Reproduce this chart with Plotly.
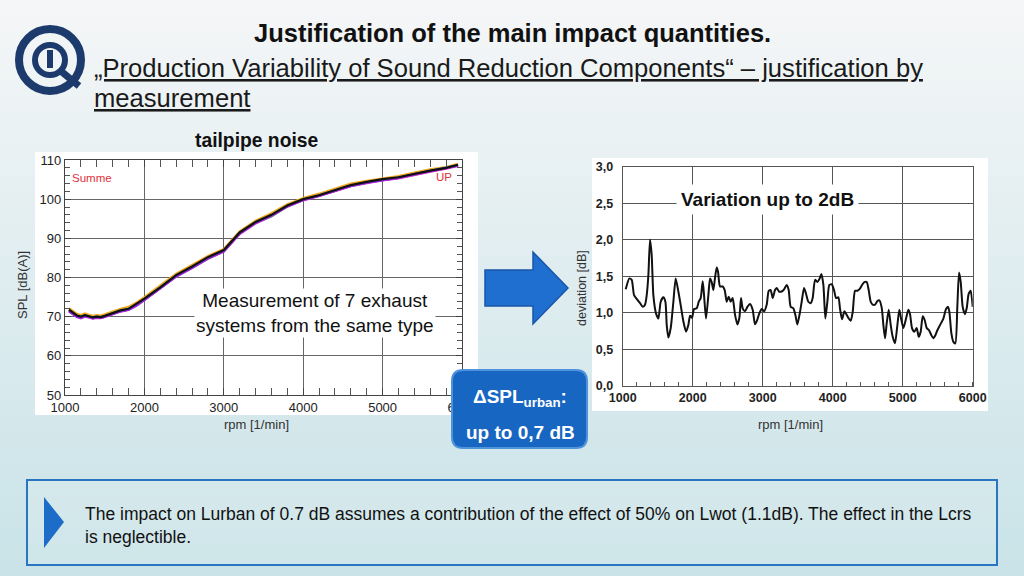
import plotly.graph_objects as go

W, H = 1024, 576

# ---------------- data: tailpipe noise (SPL vs rpm), 7 exhaust systems ----------------
rpm_spl = [1050, 1100, 1150, 1200, 1250, 1300, 1350, 1400, 1450, 1500, 1600, 1700, 1800, 1900,
           2000, 2200, 2400, 2600, 2800, 3000, 3200, 3400, 3600, 3800, 4000, 4200, 4400, 4600,
           4800, 5000, 5200, 5400, 5600, 5800, 5950]
spl_red = [71.5, 70.8, 70.1, 69.8, 70.2, 70.0, 69.6, 69.9, 69.7, 70.0, 70.7, 71.4, 71.8, 73.0, 74.4,
           77.3, 80.4, 82.6, 85.0, 86.8, 91.2, 94.0, 95.8, 98.2, 99.8, 100.8, 102.1, 103.4, 104.2,
           104.9, 105.4, 106.3, 107.1, 107.9, 108.6]
spl_orange = [72.2, 71.4, 70.7, 70.4, 70.8, 70.5, 70.2, 70.4, 70.3, 70.6, 71.3, 72.0, 72.5, 73.6, 75.0,
              77.9, 81.0, 83.2, 85.5, 87.3, 91.8, 94.5, 96.4, 98.7, 100.3, 101.4, 102.8, 104.0, 104.7,
              105.3, 105.9, 106.8, 107.6, 108.2, 109.0]
spl_green = [71.6, 70.9, 70.2, 69.9, 70.3, 70.0, 69.7, 69.9, 69.8, 70.1, 70.8, 71.5, 71.9, 72.9, 74.3,
             77.2, 80.3, 82.5, 84.8, 86.7, 91.2, 93.9, 95.6, 98.1, 99.8, 100.9, 102.2, 103.5, 104.3,
             105.0, 105.5, 106.4, 107.2, 107.9, 108.7]
spl_cyan = [71.7, 71.0, 70.2, 70.0, 70.3, 70.1, 69.8, 70.0, 69.9, 70.1, 70.8, 71.6, 72.0, 73.1, 74.5,
            77.4, 80.5, 82.7, 85.1, 86.9, 91.4, 94.1, 95.9, 98.3, 99.9, 101.0, 102.2, 103.5, 104.3,
            104.9, 105.4, 106.4, 107.2, 108.0, 108.7]
spl_magenta = [71.3, 70.6, 69.9, 69.6, 70.0, 69.8, 69.5, 69.7, 69.6, 69.9, 70.6, 71.3, 71.7, 72.8, 74.2,
               77.1, 80.2, 82.4, 84.8, 86.6, 91.1, 93.8, 95.7, 98.1, 99.7, 100.8, 102.0, 103.3, 104.1,
               104.8, 105.3, 106.2, 107.0, 107.8, 108.5]
spl_purple = [71.4, 70.7, 70.0, 69.7, 70.1, 69.9, 69.6, 69.8, 69.7, 70.0, 70.7, 71.4, 71.8, 72.9, 74.3,
              77.2, 80.3, 82.5, 84.9, 86.7, 91.3, 94.0, 95.8, 98.2, 99.8, 100.9, 102.1, 103.4, 104.2,
              104.9, 105.5, 106.4, 107.2, 107.9, 108.6]
spl_black = [71.8, 71.0, 70.3, 70.0, 70.4, 70.1, 69.8, 70.0, 69.9, 70.2, 70.9, 71.6, 72.0, 73.2, 74.6,
             77.5, 80.6, 82.8, 85.2, 87.0, 91.5, 94.2, 96.0, 98.4, 100.0, 101.0, 102.3, 103.6, 104.4,
             105.1, 105.6, 106.5, 107.3, 108.0, 108.8]

spl_xticks = [1000, 2000, 3000, 4000, 5000, 6000]
spl_xticktext = ["1000", "2000", "3000", "4000", "5000", "6000"]
spl_yticks = [50, 60, 70, 80, 90, 100, 110]
spl_yticktext = ["50", "60", "70", "80", "90", "100", "110"]

# ---------------- data: deviation vs rpm ----------------
rpm_dev = [1043, 1095, 1129, 1162, 1200, 1248, 1286, 1319, 1343, 1367, 1390, 1414, 1438, 1476, 1510,
           1543, 1581, 1610, 1629, 1652, 1686, 1724, 1757, 1795, 1829, 1867, 1905, 1938, 1962, 1990,
           2019, 2057, 2086, 2114, 2143, 2162, 2190, 2224, 2248, 2271, 2295, 2319, 2343, 2362, 2390,
           2429, 2457, 2486, 2514, 2543, 2571, 2605, 2638, 2667, 2690, 2714, 2748, 2781, 2819, 2857,
           2890, 2914, 2952, 2986, 3019, 3057, 3086, 3114, 3143, 3176, 3200, 3233, 3271, 3305, 3343,
           3371, 3400, 3438, 3467, 3495, 3533, 3557, 3590, 3619, 3652, 3686, 3714, 3748, 3781, 3810,
           3838, 3867, 3895, 3924, 3952, 3986, 4019, 4048, 4081, 4105, 4133, 4167, 4200, 4229, 4257,
           4286, 4319, 4352, 4390, 4419, 4452, 4486, 4514, 4543, 4571, 4605, 4638, 4667, 4700, 4724,
           4748, 4771, 4800, 4829, 4857, 4890, 4924, 4952, 4981, 5010, 5048, 5081, 5105, 5133, 5167,
           5200, 5229, 5257, 5286, 5314, 5343, 5376, 5410, 5438, 5467, 5495, 5533, 5581, 5619, 5648,
           5667, 5695, 5724, 5752, 5781, 5805, 5829, 5857, 5890, 5914, 5943, 5971, 6000]
deviation = [1.32, 1.47, 1.45, 1.24, 1.19, 1.13, 1.08, 1.11, 1.24, 1.52, 2.00, 1.79, 1.24, 0.99, 0.92,
             1.15, 1.21, 1.15, 0.83, 0.66, 0.79, 1.15, 1.47, 1.29, 1.10, 0.88, 0.74, 0.83, 0.96, 0.93,
             1.05, 1.06, 1.15, 1.20, 1.43, 1.24, 0.92, 1.24, 1.47, 1.42, 1.31, 1.48, 1.62, 1.56, 1.36,
             1.36, 1.31, 1.15, 1.22, 1.15, 1.20, 0.97, 0.84, 0.93, 1.20, 1.06, 1.02, 1.08, 1.12, 1.04,
             0.84, 0.88, 0.99, 1.05, 1.02, 1.11, 1.30, 1.31, 1.20, 1.31, 1.34, 1.29, 1.29, 1.32, 1.38,
             1.31, 1.08, 1.06, 0.97, 0.84, 1.01, 1.15, 1.34, 1.26, 1.15, 1.13, 1.20, 1.45, 1.42, 1.46,
             1.53, 1.38, 0.92, 1.15, 1.38, 1.39, 1.31, 1.20, 1.21, 1.05, 0.91, 1.02, 0.97, 0.92, 0.89,
             1.01, 1.30, 1.30, 1.33, 1.38, 1.42, 1.42, 1.31, 1.15, 1.11, 1.11, 1.16, 1.17, 1.07, 0.83,
             0.65, 0.85, 1.04, 0.83, 0.67, 0.58, 0.83, 1.04, 0.90, 0.79, 0.92, 1.04, 0.98, 0.79, 0.74,
             0.79, 0.67, 0.74, 0.95, 0.90, 0.79, 0.76, 0.69, 0.65, 0.69, 0.76, 0.83, 0.92, 1.05, 1.08,
             1.01, 0.72, 0.60, 0.58, 1.10, 1.55, 1.42, 1.08, 0.98, 1.06, 1.26, 1.30, 1.08]

dev_xticks = [1000, 2000, 3000, 4000, 5000, 6000]
dev_xticktext = ["1000", "2000", "3000", "4000", "5000", "6000"]
dev_yticks = [0, 0.5, 1.0, 1.5, 2.0, 2.5, 3.0]
dev_yticktext = ["0,0", "0,5", "1,0", "1,5", "2,0", "2,5", "3,0"]


def px(x):
    return x / W


def py(y):
    return 1 - y / H


fig = go.Figure()

series = [
    (spl_red, "#e8283c"), (spl_orange, "#f2a81d"), (spl_green, "#2fd17a"),
    (spl_cyan, "#1ea6e0"), (spl_magenta, "#d22ad2"), (spl_purple, "#8a2be2"),
    (spl_black, "#111111"),
]
for vals, col in series:
    fig.add_trace(go.Scatter(x=rpm_spl, y=vals, mode="lines", line=dict(color=col, width=2.2),
                             xaxis="x", yaxis="y", showlegend=False, hoverinfo="skip"))

fig.add_trace(go.Scatter(x=rpm_dev, y=deviation, mode="lines",
                         line=dict(color="#111111", width=2, shape="spline", smoothing=0.6),
                         xaxis="x2", yaxis="y2", showlegend=False, hoverinfo="skip"))

shapes = []
# background gradient bands
top = (0xf4, 0xf6, 0xf7)
bot = (0xc9, 0xe3, 0xe8)
N = 36
for i in range(N):
    t = i / (N - 1)
    c = tuple(round(top[k] + (bot[k] - top[k]) * t) for k in range(3))
    shapes.append(dict(type="rect", xref="paper", yref="paper", x0=0, x1=1,
                       y0=max(0, py(H * (i + 1) / N + 1)), y1=py(H * i / N),
                       fillcolor="rgb(%d,%d,%d)" % c, line=dict(width=0), layer="below"))
# white chart panels
shapes.append(dict(type="rect", xref="paper", yref="paper", x0=px(35), x1=px(478), y0=py(415), y1=py(152),
                   fillcolor="white", line=dict(width=0), layer="below"))
shapes.append(dict(type="rect", xref="paper", yref="paper", x0=px(592), x1=px(988), y0=py(411), y1=py(158),
                   fillcolor="white", line=dict(width=0), layer="below"))

# logo
navy = "#1d3a6c"
shapes.append(dict(type="circle", xref="paper", yref="paper", x0=px(19), x1=px(81), y0=py(91), y1=py(29),
                   line=dict(color=navy, width=8), fillcolor="rgba(0,0,0,0)"))
shapes.append(dict(type="circle", xref="paper", yref="paper", x0=px(35), x1=px(65), y0=py(75), y1=py(45),
                   line=dict(color=navy, width=6), fillcolor="rgba(0,0,0,0)"))
shapes.append(dict(type="rect", xref="paper", yref="paper", x0=px(47), x1=px(53), y0=py(68), y1=py(50),
                   line=dict(width=0), fillcolor=navy))
shapes.append(dict(type="line", xref="paper", yref="paper", x0=px(62), x1=px(79), y0=py(72), y1=py(86),
                   line=dict(color=navy, width=7)))

# arrow
arrow = "M {},{} L {},{} L {},{} L {},{} L {},{} L {},{} L {},{} Z".format(
    px(485), py(270), px(533), py(270), px(533), py(252), px(568), py(288),
    px(533), py(324), px(533), py(306), px(485), py(306))
shapes.append(dict(type="path", xref="paper", yref="paper", path=arrow,
                   fillcolor="#1e6fcf", line=dict(color="#1a56a8", width=1.5), layer="above"))

# rounded box ΔSPL
x0, x1, y0, y1, r = 452, 587, 370, 448, 11
rb = ("M {a},{b} L {c},{b} Q {x1},{b} {x1},{d} L {x1},{e} Q {x1},{f} {c},{f} "
      "L {a},{f} Q {x0},{f} {x0},{e} L {x0},{d} Q {x0},{b} {a},{b} Z").format(
    a=px(x0 + r), b=py(y0), c=px(x1 - r), d=py(y0 + r), e=py(y1 - r), f=py(y1),
    x0=px(x0), x1=px(x1))
shapes.append(dict(type="path", xref="paper", yref="paper", path=rb,
                   fillcolor="#1766c2", line=dict(color="#4f93dc", width=2), layer="above"))

# bottom box
shapes.append(dict(type="rect", xref="paper", yref="paper", x0=px(27), x1=px(997), y0=py(565), y1=py(480),
                   fillcolor="rgba(255,255,255,0.12)", line=dict(color="#2a74c4", width=2), layer="above"))
tri = "M {},{} L {},{} L {},{} Z".format(px(44), py(497), px(64), py(522), px(44), py(548))
shapes.append(dict(type="path", xref="paper", yref="paper", path=tri, fillcolor="#1d6cc8",
                   line=dict(width=0), layer="above"))

ann = []


def A(text, x, y, size, color="#111", bold=False, xanchor="center", **kw):
    t = "<b>%s</b>" % text if bold else text
    d = dict(text=t, x=px(x), y=py(y), xref="paper", yref="paper", showarrow=False,
             xanchor=xanchor, yanchor="middle", font=dict(size=size, color=color, family="Arial"))
    d.update(kw)
    ann.append(d)


A("Justification of the main impact quantities.", 512, 33, 25.5, bold=True)
A("<u>„Production Variability of Sound Reduction Components“ – justification by</u>", 92, 68, 25.6,
  color="#1a1a1a", xanchor="left")
A("<u>measurement</u>", 92, 98, 25.6, color="#1a1a1a", xanchor="left")
A("tailpipe noise", 256, 141, 19.3, bold=True)
A("SPL [dB(A)]", 22, 285, 13, color="#333", textangle=-90)
A("rpm [1/min]", 256, 424, 13, color="#333")
A("rpm [1/min]", 790, 424, 13, color="#333")
A("deviation [dB]", 582, 288, 12.5, color="#333", textangle=-90)
A("Summe", 92, 178, 11.5, color="#e0303c")
A("UP", 444, 177, 11.5, color="#e0303c")
A("Measurement of 7 exhaust<br>systems from the same type", 315, 313, 19, color="#111",
  bgcolor="white", borderpad=1)
A("Variation up to 2dB", 767, 199, 19, bold=True, bgcolor="white", borderpad=4)
A("ΔSPL<sub>urban</sub>:", 520, 398, 19, color="white", bold=True)
A("up to 0,7 dB", 520, 432, 19, color="white", bold=True)
ann.append(dict(text="The impact on Lurban of 0.7 dB assumes a contribution of the effect of 50% on Lwot (1.1dB). The effect in the Lcrs<br>is neglectible.",
                x=px(83), y=py(525), xref="paper", yref="paper", showarrow=False, xanchor="left",
                yanchor="middle", align="left", font=dict(size=17.5, color="#111", family="Arial")))

fig.update_layout(
    width=W, height=H, margin=dict(l=0, r=0, t=0, b=0, autoexpand=False),
    paper_bgcolor="#f4f6f7", plot_bgcolor="white", showlegend=False,
    shapes=shapes, annotations=ann,
    xaxis=dict(domain=[px(65), px(462)], range=[1000, 6000], tickvals=spl_xticks, ticktext=spl_xticktext,
               automargin=False,
               showgrid=True, gridcolor="#666", gridwidth=1.2, showline=True, linecolor="#444", linewidth=1.2,
               mirror="allticks", ticks="inside", ticklen=7, tickcolor="#444",
               minor=dict(dtick=200, tick0=1000, ticks="inside", ticklen=7, tickcolor="#555", showgrid=False),
               tickfont=dict(size=13, color="#222", family="Arial"), zeroline=False, anchor="y"),
    yaxis=dict(domain=[py(395), py(160)], range=[50, 110], tickvals=spl_yticks, ticktext=spl_yticktext,
               automargin=False,
               showgrid=True, gridcolor="#666", gridwidth=1.2, showline=True, linecolor="#444", linewidth=1.2,
               mirror="allticks", ticks="inside", ticklen=6, tickcolor="#444",
               minor=dict(dtick=2, tick0=50, ticks="inside", ticklen=5, tickcolor="#555", showgrid=False),
               tickfont=dict(size=13, color="#222", family="Arial"), zeroline=False, anchor="x"),
    xaxis2=dict(domain=[px(622.7), px(972.7)], range=[1000, 6000], tickvals=dev_xticks,
                ticktext=["<b>%s</b>" % t for t in dev_xticktext], automargin=False,
                showgrid=True, gridcolor="#555", gridwidth=1, showline=True, linecolor="#555", linewidth=1,
                mirror=True, ticks="",
                minor=dict(dtick=200, tick0=1000, ticks="inside", ticklen=4, tickcolor="#555", showgrid=False),
                tickfont=dict(size=12.5, color="#222", family="Arial"), zeroline=False, anchor="y2"),
    yaxis2=dict(domain=[py(385.7), py(166.7)], range=[0, 3], tickvals=dev_yticks,
                ticktext=["<b>%s</b>" % t for t in dev_yticktext], automargin=False,
                showgrid=True, gridcolor="#555", gridwidth=1, showline=True, linecolor="#555", linewidth=1,
                mirror=True, ticks="", ticklabelstandoff=6,
                tickfont=dict(size=12.5, color="#222", family="Arial"), zeroline=False, anchor="x2"),
)

fig.write_html("out.html", config={"displayModeBar": False, "staticPlot": True},
               post_script="document.body.style.margin='0';document.body.style.overflow='hidden';")
